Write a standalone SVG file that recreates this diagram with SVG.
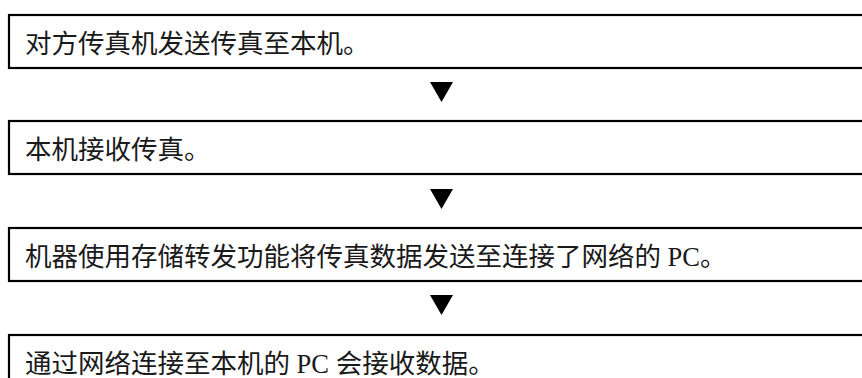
<svg xmlns="http://www.w3.org/2000/svg" width="862" height="378" viewBox="0 0 862 378">
<style>
.box{fill:#fff;stroke:#000;stroke-width:2.2}
.t{font-family:"Liberation Serif","Noto Sans CJK SC",serif;font-size:26.5px;fill:#1a1a1a}
.arr{fill:#000}
</style>
<rect width="862" height="378" fill="#fff"/>
<g id="step1"><rect class="box" x="9" y="15" width="870" height="53"/><text class="t" x="25" y="52.5">对方传真机发送传真至本机。</text></g>
<g id="step2"><rect class="box" x="9" y="121" width="870" height="53"/><text class="t" x="25" y="159">本机接收传真。</text></g>
<g id="step3"><rect class="box" x="9" y="228" width="870" height="53"/><text class="t" x="25" y="265.5">机器使用存储转发功能将传真数据发送至连接了网络的 PC。</text></g>
<g id="step4"><rect class="box" x="9" y="335" width="870" height="53"/><text class="t" x="25" y="372.5">通过网络连接至本机的 PC 会接收数据。</text></g>
<g id="connectors">
<polygon class="arr" points="430,82 453,82 441.5,102"/>
<polygon class="arr" points="430,189 453,189 441.5,209"/>
<polygon class="arr" points="430,295 453,295 441.5,315"/>
</g>
</svg>
